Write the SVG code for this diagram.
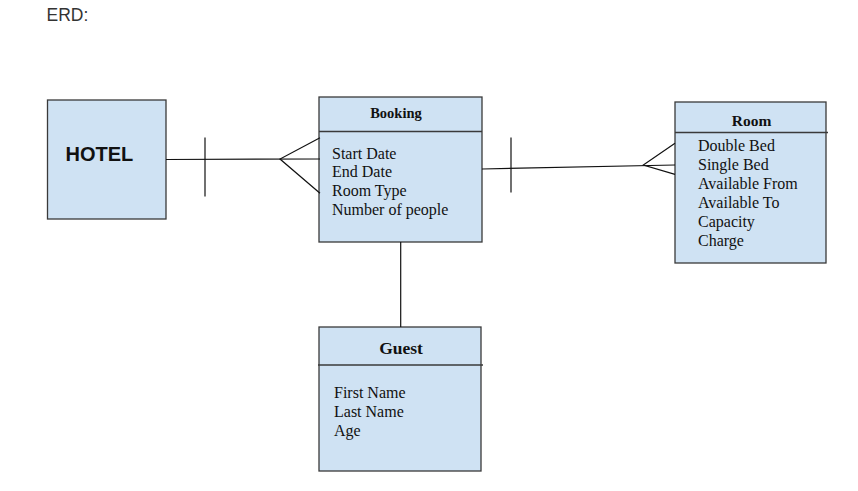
<svg xmlns="http://www.w3.org/2000/svg" width="858" height="491" viewBox="0 0 858 491">
<style>
.box{fill:#cfe2f3;stroke:#3a3a3a;stroke-width:1.3}
.div{stroke:#3a3a3a;stroke-width:1.3}
.ln{stroke:#111;stroke-width:1.2;fill:none}
.t{font-family:"Liberation Serif",serif;font-size:16px;fill:#111}
.h{font-family:"Liberation Serif",serif;font-weight:bold;fill:#111;text-anchor:middle}
</style>
<rect width="858" height="491" fill="#fff"/>
<text x="46.5" y="21" font-family="Liberation Sans,Arial,sans-serif" font-size="17.5" fill="#333">ERD:</text>
<g id="hotel">
<rect class="box" x="47.5" y="100" width="118.5" height="119"/>
<text x="65.5" y="160.5" font-family="Liberation Sans,Arial,sans-serif" font-size="20" font-weight="bold" fill="#111">HOTEL</text>
</g>
<g id="booking">
<rect class="box" x="319" y="97" width="163" height="145"/>
<line class="div" x1="319" y1="131.5" x2="482" y2="131.5"/>
<text class="h" x="396" y="118" font-size="14.5">Booking</text>
<text class="t" x="332" y="159">Start Date</text>
<text class="t" x="332" y="177">End Date</text>
<text class="t" x="332" y="196">Room Type</text>
<text class="t" x="332" y="215">Number of people</text>
</g>
<g id="room">
<rect class="box" x="675" y="102" width="151" height="161"/>
<line class="div" x1="675" y1="132.5" x2="828" y2="132.5"/>
<text class="h" x="751.5" y="126" font-size="15.5">Room</text>
<text class="t" x="698" y="151">Double Bed</text>
<text class="t" x="698" y="170">Single Bed</text>
<text class="t" x="698" y="189">Available From</text>
<text class="t" x="698" y="208">Available To</text>
<text class="t" x="698" y="227">Capacity</text>
<text class="t" x="698" y="246">Charge</text>
</g>
<g id="guest">
<rect class="box" x="319" y="327" width="162" height="144"/>
<line class="div" x1="318" y1="365" x2="483" y2="365"/>
<text class="h" x="401" y="354" font-size="17.5">Guest</text>
<text class="t" x="334" y="398">First Name</text>
<text class="t" x="334" y="417">Last Name</text>
<text class="t" x="334" y="436">Age</text>
</g>
<g id="connectors">
<line class="ln" x1="166" y1="159.5" x2="320" y2="159"/>
<line class="ln" x1="205" y1="137.5" x2="205" y2="196.5"/>
<polyline class="ln" points="320,137.7 280,159 320,193.3"/>
<line class="ln" x1="482" y1="169" x2="675" y2="165"/>
<line class="ln" x1="511" y1="137.5" x2="511" y2="192.5"/>
<polyline class="ln" points="675,143.3 643.3,165 675,174.3"/>
<line class="ln" x1="400.7" y1="242" x2="400.7" y2="327"/>
</g>
</svg>
